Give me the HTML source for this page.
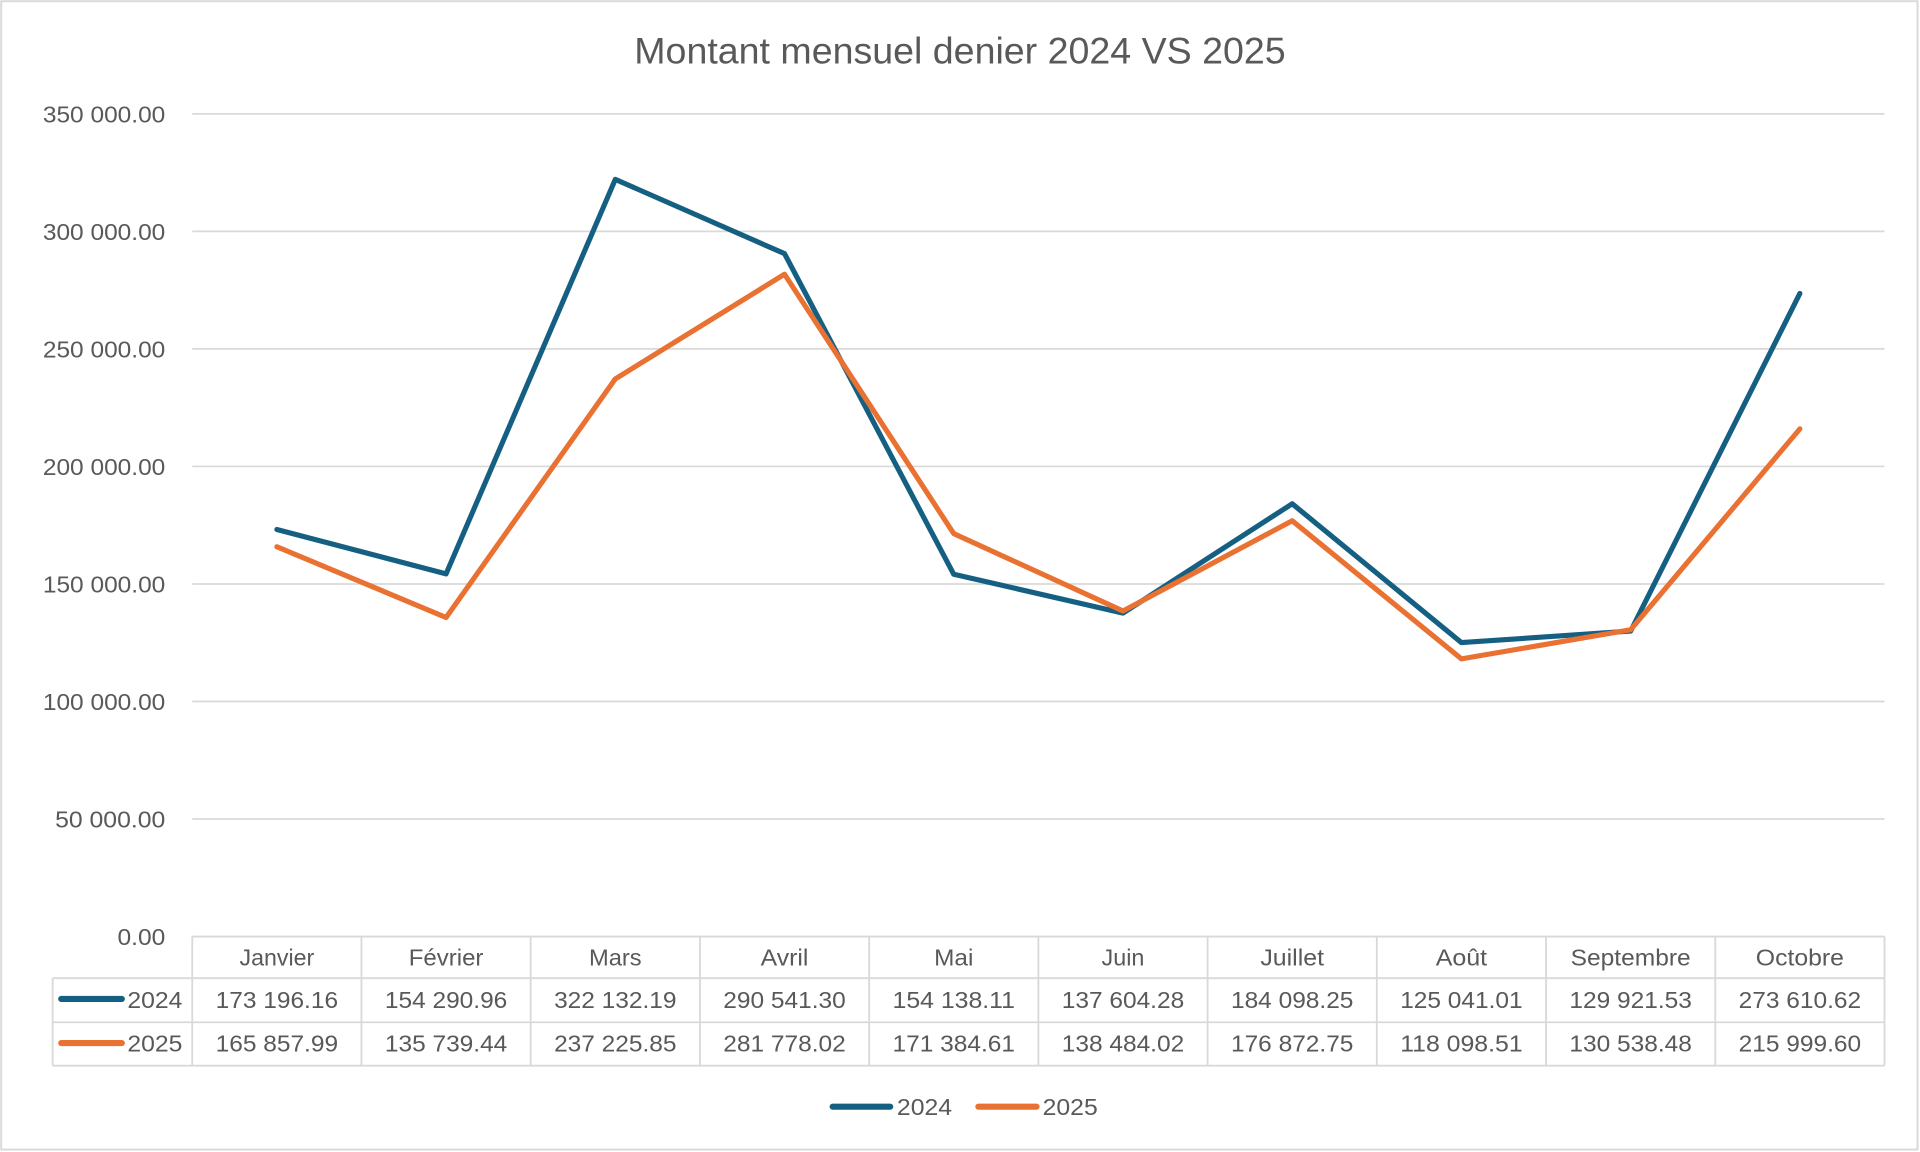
<!DOCTYPE html>
<html>
<head>
<meta charset="utf-8">
<style>
  html, body { margin: 0; padding: 0; background: #ffffff; }
  body { width: 1920px; height: 1152px; overflow: hidden; }
  svg { display: block; }
  text { font-family: "Liberation Sans", "DejaVu Sans", sans-serif; fill: #595959; }
</style>
</head>
<body>
<svg width="1920" height="1152" viewBox="0 0 1568 941" preserveAspectRatio="none" xmlns="http://www.w3.org/2000/svg">
  <rect x="0" y="0" width="1568" height="941" fill="#ffffff"/>
  <rect x="1" y="1" width="1565" height="938" fill="none" stroke="#d9d9d9" stroke-width="1.6"/>

  <!-- Title -->
  <text x="784" y="52" font-size="30" text-anchor="middle" textLength="532" lengthAdjust="spacingAndGlyphs">Montant mensuel denier 2024 VS 2025</text>

  <!-- Gridlines -->
  <g stroke="#d9d9d9" stroke-width="1.4">
    <line x1="157" y1="93" x2="1539" y2="93"/>
    <line x1="157" y1="189" x2="1539" y2="189"/>
    <line x1="157" y1="285" x2="1539" y2="285"/>
    <line x1="157" y1="381" x2="1539" y2="381"/>
    <line x1="157" y1="477" x2="1539" y2="477"/>
    <line x1="157" y1="573" x2="1539" y2="573"/>
    <line x1="157" y1="669" x2="1539" y2="669"/>
  </g>

  <!-- Y axis labels -->
  <g font-size="19" text-anchor="end">
    <text x="135" y="100" textLength="100" lengthAdjust="spacingAndGlyphs">350 000.00</text>
    <text x="135" y="196" textLength="100" lengthAdjust="spacingAndGlyphs">300 000.00</text>
    <text x="135" y="292" textLength="100" lengthAdjust="spacingAndGlyphs">250 000.00</text>
    <text x="135" y="388" textLength="100" lengthAdjust="spacingAndGlyphs">200 000.00</text>
    <text x="135" y="484" textLength="100" lengthAdjust="spacingAndGlyphs">150 000.00</text>
    <text x="135" y="580" textLength="100" lengthAdjust="spacingAndGlyphs">100 000.00</text>
    <text x="135" y="676" textLength="90" lengthAdjust="spacingAndGlyphs">50 000.00</text>
    <text x="135" y="772" textLength="39" lengthAdjust="spacingAndGlyphs">0.00</text>
  </g>

  <!-- Series -->
  <polyline fill="none" stroke="#156082" stroke-width="4.2" stroke-linejoin="round" stroke-linecap="round"
    points="226.1,432.5 364.3,468.8 502.5,146.5 640.7,207.2 778.9,469.1 917.1,500.8 1055.3,411.5 1193.5,524.9 1331.7,515.5 1469.9,239.7"/>
  <polyline fill="none" stroke="#E97132" stroke-width="4.2" stroke-linejoin="round" stroke-linecap="round"
    points="226.1,446.6 364.3,504.4 502.5,309.5 640.7,224.0 778.9,435.9 917.1,499.1 1055.3,425.4 1193.5,538.2 1331.7,514.4 1469.9,350.3"/>

  <!-- Data table -->
  <g stroke="#d9d9d9" stroke-width="1.5" fill="none">
    <line x1="157" y1="765" x2="1539" y2="765"/>
    <line x1="43" y1="799" x2="1539" y2="799"/>
    <line x1="43" y1="835" x2="1539" y2="835"/>
    <line x1="43" y1="870.5" x2="1539" y2="870.5"/>
    <line x1="43" y1="799" x2="43" y2="870.5"/>
    <line x1="157" y1="765" x2="157" y2="870.5"/>
    <line x1="295.2" y1="765" x2="295.2" y2="870.5"/>
    <line x1="433.4" y1="765" x2="433.4" y2="870.5"/>
    <line x1="571.6" y1="765" x2="571.6" y2="870.5"/>
    <line x1="709.8" y1="765" x2="709.8" y2="870.5"/>
    <line x1="848" y1="765" x2="848" y2="870.5"/>
    <line x1="986.2" y1="765" x2="986.2" y2="870.5"/>
    <line x1="1124.4" y1="765" x2="1124.4" y2="870.5"/>
    <line x1="1262.6" y1="765" x2="1262.6" y2="870.5"/>
    <line x1="1400.8" y1="765" x2="1400.8" y2="870.5"/>
    <line x1="1539" y1="765" x2="1539" y2="870.5"/>
  </g>

  <g font-size="19" text-anchor="middle">
    <!-- Month row -->
    <text x="226.1" y="788.5" textLength="61" lengthAdjust="spacingAndGlyphs">Janvier</text>
    <text x="364.3" y="788.5" textLength="61" lengthAdjust="spacingAndGlyphs">Février</text>
    <text x="502.5" y="788.5" textLength="43" lengthAdjust="spacingAndGlyphs">Mars</text>
    <text x="640.7" y="788.5" textLength="39" lengthAdjust="spacingAndGlyphs">Avril</text>
    <text x="778.9" y="788.5" textLength="32" lengthAdjust="spacingAndGlyphs">Mai</text>
    <text x="917.1" y="788.5" textLength="35" lengthAdjust="spacingAndGlyphs">Juin</text>
    <text x="1055.3" y="788.5" textLength="52" lengthAdjust="spacingAndGlyphs">Juillet</text>
    <text x="1193.5" y="788.5" textLength="42" lengthAdjust="spacingAndGlyphs">Août</text>
    <text x="1331.7" y="788.5" textLength="98" lengthAdjust="spacingAndGlyphs">Septembre</text>
    <text x="1469.9" y="788.5" textLength="72" lengthAdjust="spacingAndGlyphs">Octobre</text>

    <!-- 2024 row -->
    <text x="226.1" y="823.5" textLength="100" lengthAdjust="spacingAndGlyphs">173 196.16</text>
    <text x="364.3" y="823.5" textLength="100" lengthAdjust="spacingAndGlyphs">154 290.96</text>
    <text x="502.5" y="823.5" textLength="100" lengthAdjust="spacingAndGlyphs">322 132.19</text>
    <text x="640.7" y="823.5" textLength="100" lengthAdjust="spacingAndGlyphs">290 541.30</text>
    <text x="778.9" y="823.5" textLength="100" lengthAdjust="spacingAndGlyphs">154 138.11</text>
    <text x="917.1" y="823.5" textLength="100" lengthAdjust="spacingAndGlyphs">137 604.28</text>
    <text x="1055.3" y="823.5" textLength="100" lengthAdjust="spacingAndGlyphs">184 098.25</text>
    <text x="1193.5" y="823.5" textLength="100" lengthAdjust="spacingAndGlyphs">125 041.01</text>
    <text x="1331.7" y="823.5" textLength="100" lengthAdjust="spacingAndGlyphs">129 921.53</text>
    <text x="1469.9" y="823.5" textLength="100" lengthAdjust="spacingAndGlyphs">273 610.62</text>

    <!-- 2025 row -->
    <text x="226.1" y="859" textLength="100" lengthAdjust="spacingAndGlyphs">165 857.99</text>
    <text x="364.3" y="859" textLength="100" lengthAdjust="spacingAndGlyphs">135 739.44</text>
    <text x="502.5" y="859" textLength="100" lengthAdjust="spacingAndGlyphs">237 225.85</text>
    <text x="640.7" y="859" textLength="100" lengthAdjust="spacingAndGlyphs">281 778.02</text>
    <text x="778.9" y="859" textLength="100" lengthAdjust="spacingAndGlyphs">171 384.61</text>
    <text x="917.1" y="859" textLength="100" lengthAdjust="spacingAndGlyphs">138 484.02</text>
    <text x="1055.3" y="859" textLength="100" lengthAdjust="spacingAndGlyphs">176 872.75</text>
    <text x="1193.5" y="859" textLength="100" lengthAdjust="spacingAndGlyphs">118 098.51</text>
    <text x="1331.7" y="859" textLength="100" lengthAdjust="spacingAndGlyphs">130 538.48</text>
    <text x="1469.9" y="859" textLength="100" lengthAdjust="spacingAndGlyphs">215 999.60</text>
  </g>

  <!-- Table legend keys -->
  <line x1="50" y1="816" x2="99.5" y2="816" stroke="#156082" stroke-width="5" stroke-linecap="round"/>
  <text x="104" y="823.5" font-size="19" textLength="45" lengthAdjust="spacingAndGlyphs">2024</text>
  <line x1="50" y1="852" x2="99.5" y2="852" stroke="#E97132" stroke-width="5" stroke-linecap="round"/>
  <text x="104" y="859" font-size="19" textLength="45" lengthAdjust="spacingAndGlyphs">2025</text>

  <!-- Bottom legend -->
  <line x1="680" y1="904" x2="727" y2="904" stroke="#156082" stroke-width="5" stroke-linecap="round"/>
  <text x="732.5" y="910.6" font-size="19" textLength="45" lengthAdjust="spacingAndGlyphs">2024</text>
  <line x1="799" y1="904" x2="846.5" y2="904" stroke="#E97132" stroke-width="5" stroke-linecap="round"/>
  <text x="851.5" y="910.6" font-size="19" textLength="45" lengthAdjust="spacingAndGlyphs">2025</text>
</svg>
</body>
</html>
